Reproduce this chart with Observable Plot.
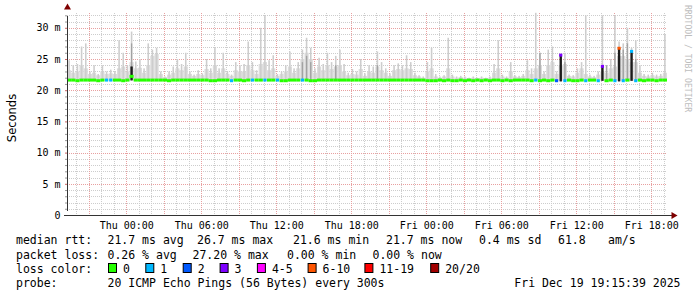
<!DOCTYPE html>
<html><head><meta charset="utf-8">
<script src="https://cdn.jsdelivr.net/npm/d3@7"></script>
<script src="https://cdn.jsdelivr.net/npm/@observablehq/plot@0.6"></script>
<style>body{margin:0;background:#fff;} svg{display:block}</style>
</head><body><div id="chart"></div>
<script>
// ---- data (20-minute bins, Wed Dec 17 19:15 -> Fri Dec 19 19:15 UTC) ----
const median = [
 21.7,21.7,21.6,21.7,21.7,21.7,21.7,21.6,21.7,21.7,
 21.7,21.7,21.7,21.6,21.7,22.3,21.7,21.7,21.7,21.7,
 21.7,21.7,21.7,21.7,21.6,21.7,21.7,21.7,21.7,21.7,
 21.7,21.7,21.7,21.7,21.6,21.6,21.7,21.7,21.7,21.6,
 21.7,21.7,21.6,21.7,21.7,21.7,21.7,21.7,21.7,21.7,
 21.7,21.6,21.6,21.7,21.7,21.7,21.7,21.7,21.6,21.6,
 21.7,21.7,21.7,21.7,21.7,21.7,21.7,21.7,21.7,21.7,
 21.7,21.7,21.7,21.7,21.7,21.7,21.7,21.7,21.7,21.7,
 21.7,21.7,21.7,21.7,21.7,21.7,21.6,21.6,21.6,21.7,
 21.6,21.7,21.6,21.6,21.7,21.6,21.7,21.6,21.7,21.6,
 21.7,21.6,21.7,21.7,21.6,21.7,21.6,21.7,21.7,21.7,
 21.7,21.6,21.7,21.6,21.7,21.6,21.7,21.6,25.7,21.6,
 21.7,21.6,21.6,21.7,21.6,21.7,21.7,21.6,23.9,21.6,
 21.7,21.6,26.8,21.6,21.7,26.3,21.6,21.7,21.6,21.7,
 21.7,21.6,21.7,21.7
];
const smokeMid = [
 23.2,22.8,23.0,24.0,23.5,22.6,22.8,22.4,23.0,22.6,
 22.7,22.6,23.5,23.8,23.0,24.5,23.5,23.6,22.8,24.0,
 25.5,25.8,22.6,22.1,22.5,22.8,23.5,23.2,23.8,22.6,
 22.3,22.6,22.4,23.4,22.8,24.0,22.8,23.5,22.6,22.3,
 23.2,23.0,23.0,24.0,23.2,22.6,24.2,24.5,23.2,23.5,
 22.3,22.6,23.0,23.8,22.8,23.5,25.0,26.0,25.0,22.8,
 23.8,23.2,24.0,23.4,23.8,24.0,23.0,22.4,22.6,22.5,
 23.4,22.3,23.0,22.8,23.8,23.2,22.8,22.3,23.2,23.4,
 23.2,23.5,23.4,22.4,22.2,22.0,23.0,23.5,22.2,22.0,
 22.2,23.5,22.2,22.0,22.1,22.0,21.9,22.0,21.9,22.0,
 21.9,22.0,22.8,23.5,22.2,22.0,23.0,22.2,22.1,22.3,
 23.2,22.6,23.5,24.0,22.6,24.0,24.5,22.6,24.0,24.2,
 22.3,22.2,22.8,23.5,22.6,22.2,22.1,22.5,23.0,22.8,
 23.5,23.8,25.5,25.5,25.0,24.5,24.5,22.8,22.3,22.2,
 22.4,22.2,22.3,22.8
];
const smokeHi = [
 24.8,24.0,24.2,27.0,27.5,23.0,24.0,22.6,24.0,23.0,23.3,23.0,
 28.0,26.0,24.0,29.4,24.6,25.0,23.5,27.5,26.5,26.8,23.0,22.2,
 23.0,23.8,25.0,24.2,26.0,23.0,22.5,23.2,22.7,25.0,23.5,26.8,
 23.5,26.0,23.0,22.5,24.5,24.0,24.2,27.8,24.5,23.2,30.0,32.0,
 24.8,25.6,22.6,23.0,24.0,26.2,23.5,24.5,26.5,28.4,26.8,23.5,
 25.2,24.2,26.0,24.5,25.5,26.5,24.2,22.8,23.4,23.0,25.0,22.7,
 24.0,23.8,26.2,24.5,23.5,22.7,24.0,24.3,24.0,25.6,24.5,22.8,
 22.4,22.2,24.5,26.8,22.6,22.2,22.4,28.4,22.5,22.2,22.3,22.2,
 22.0,22.2,22.0,22.2,22.0,22.2,24.2,28.0,22.5,22.2,24.5,22.4,
 22.3,22.6,24.8,23.5,32.4,26.0,23.0,26.5,27.0,23.0,25.8,26.0,
 22.5,22.4,23.5,24.5,32.0,22.5,22.3,23.0,32.0,24.0,25.0,32.0,
 27.8,27.5,30.0,26.8,28.0,24.0,22.6,22.5,22.8,22.5,22.6,29.0
];
const loss = [
 0,0,0,0,0,0,0,0,0,1, 1,0,0,0,0,0,0,0,0,0,
 0,0,0,0,0,0,0,0,0,0, 0,0,0,0,0,0,0,0,0,1,
 0,0,0,0,1,0,0,1,0,0, 1,0,0,0,0,0,1,0,0,0,
 0,0,0,0,0,0,0,0,0,0, 0,0,0,0,0,0,0,0,0,0,
 0,0,0,0,0,0,0,0,0,0, 0,0,0,0,0,0,0,0,0,0,
 0,0,0,0,0,0,0,0,0,0, 0,0,1,0,0,0,0,2,3,1,
 0,0,0,0,1,0,0,1,3,0, 0,1,7,1,0,1,1,0,0,0,
 0,0,0,0
];
// darker smoke columns (bin index, top of dark part)
const shadeIdx = [15, 56, 57, 58, 64, 74, 113, 119, 129, 131, 133, 134, 136];
const shadeTop = [27.5, 24.5, 25.5, 24.5, 24.0, 24.0, 26.0, 24.5, 24.0, 26.0, 26.5, 27.5, 25.0];
// dense dark smoke bars at high-loss moments
const burstIdx  = [15, 118, 128, 132, 135];
const burstLow  = [21.6, 21.4, 21.5, 21.4, 21.5];
const burstHigh = [23.8, 25.7, 23.9, 26.8, 26.3];

const lossLabels = ["0","1","2","3","4-5","6-10","11-19","20/20"];
const lossUpper  = [0, 1, 2, 3, 5, 10, 19, 20];
const lossColors = ["#26ff00","#00b8ff","#0059ff","#7e00ff","#ff00ff","#ff5500","#ff0000","#a10000"];

const yTicks = [0, 5, 10, 15, 20, 25, 30];
const legendRtt = [["21.7 ms avg",107.5],["26.7 ms max",197],["21.6 ms min",293],["21.7 ms now",386],["0.4 ms sd",479],["61.8",558],["am/s",608]];
const legendLoss = [["0.26 % avg",107.5],["27.20 % max",192.5],["0.00 % min",287],["0.00 % now",372.5]];
const swatchX = [108, 145.3, 182.7, 219.6, 256.9, 307.6, 364.4, 430.2];

// ---- build ----
const start = new Date(Date.UTC(2025,11,17,19,15,39));
const end   = new Date(Date.UTC(2025,11,19,19,15,39));
const binMs = 20*60*1000;
const smokeFloor = 21.5;
const yMax = 32.37;

const colorFor = n => lossColors[lossUpper.findIndex(u => n <= u)];
const rows = median.map((m,i) => ({
  t0: new Date(+start + i*binMs), t1: new Date(+start + (i+1)*binMs),
  median: m, mid: smokeMid[i], hi: smokeHi[i], loss: loss[i], color: colorFor(loss[i])
}));
const shades = shadeIdx.map((b,j) => ({t0: rows[b].t0, t1: rows[b].t1, top: shadeTop[j]}));
const bursts = burstIdx.map((b,j) => ({t0: rows[b].t0, t1: rows[b].t1, lo: burstLow[j], hi: burstHigh[j]}));

const yMinor = d3.range(1, 33).filter(v => v % 5 !== 0);
const yMajor = yTicks.filter(v => v > 0);
const hours = d3.utcHour.range(start, end);
const minorHours = hours.filter(h => h.getUTCHours() % 3 !== 0);
const majorHours = hours.filter(h => h.getUTCHours() % 3 === 0);
const labelHours = hours.filter(h => h.getUTCHours() % 6 === 0);

const mono = "'DejaVu Sans Mono', monospace";
const plot = Plot.plot({
  width: 697, height: 297,
  marginLeft: 67, marginRight: 30, marginTop: 13, marginBottom: 82,
  x: {type: "utc", domain: [start, end]},
  y: {domain: [0, yMax]},
  style: {fontFamily: mono, fontSize: "10px", color: "#000", background: "#fff"},
  marks: [
    Plot.ruleY(yMinor, {stroke: "#cdcdcd", strokeDasharray: "1,1", shapeRendering: "crispEdges"}),
    Plot.ruleX(minorHours, {stroke: "#cdcdcd", strokeDasharray: "1,1", shapeRendering: "crispEdges"}),
    Plot.ruleY(yMajor, {stroke: "#e8a0a0", strokeDasharray: "1,1", shapeRendering: "crispEdges"}),
    Plot.ruleX(majorHours, {stroke: "#e8a0a0", strokeDasharray: "1,1", shapeRendering: "crispEdges"}),
    // smoke
    Plot.rect(rows, {x1: "t0", x2: "t1", y1: () => smokeFloor, y2: "mid", fill: "#dcdcdc"}),
    Plot.rect(rows, {x1: "t0", x2: "t1", y1: () => smokeFloor, y2: "hi", fill: "#cdcdcd", insetLeft: 1.3, insetRight: 1.3}),
    Plot.rect(shades, {x1: "t0", x2: "t1", y1: () => smokeFloor, y2: "top", fill: "#a2a2a2", insetLeft: 1.4, insetRight: 1.4}),
    Plot.rect(bursts, {x1: "t0", x2: "t1", y1: "lo", y2: "hi", fill: "#1c1c1c", insetLeft: 0.9, insetRight: 0.9}),
    // median rtt coloured by loss
    Plot.ruleY(rows.filter(r => r.loss === 0), {x1: "t0", x2: "t1", y: "median", stroke: "color", strokeWidth: 3}),
    Plot.ruleY(rows.filter(r => r.loss > 0), {x1: "t0", x2: "t1", y: "median", stroke: "color", strokeWidth: 3, insetLeft: 0.5, insetRight: 0.5}),
    // axes
    Plot.axisY(yMinor, {tickSize: 2, tickFormat: () => "", label: null, stroke: "#999"}),
    Plot.axisY(yTicks, {tickSize: 2, tickPadding: 5, tickFormat: d => d === 0 ? "0" : `${d} m`, label: null, stroke: "#c66"}),
    Plot.axisX(labelHours, {tickSize: 0, tickPadding: 6, tickFormat: d3.utcFormat("%a %H:%M"), label: null}),
    Plot.ruleX([start], {y1: () => 0, y2: () => yMax, stroke: "#333", insetTop: -4, insetBottom: -3}),
    Plot.ruleY([0], {stroke: "#333", insetLeft: -3, insetRight: -5}),
    Plot.dot([yMax], {x: () => start, y: d => d, dy: -6, symbol: "triangle", r: 2.6, fill: "#7f0000", stroke: "none"}),
    Plot.dot([0], {x: () => end, y: d => d, dx: 6, symbol: "triangle", rotate: 90, r: 2.6, fill: "#7f0000", stroke: "none"})
  ]
});
document.getElementById("chart").appendChild(plot);

// ---- texts around the plot ----
const svg = d3.select(plot);
const fs = "11.5px";
const line = (txt, x, y, anchor = "start") => svg.append("text")
  .attr("x", x).attr("y", y).attr("text-anchor", anchor)
  .attr("font-family", mono).attr("font-size", fs).attr("fill", "#000")
  .style("white-space", "pre").text(txt);

svg.append("text")
  .attr("transform", "translate(15.5,118) rotate(-90)")
  .attr("text-anchor", "middle").attr("font-family", "'DejaVu Sans', sans-serif")
  .attr("font-size", "11.5px").attr("fill", "#000").text("Seconds");

svg.append("text")
  .attr("transform", "translate(684.5,5) rotate(90)")
  .attr("text-anchor", "start")
  .attr("font-family", mono).attr("font-size", "8.1px").attr("fill", "#bdbdbd")
  .text("RRDTOOL / TOBI OETIKER");

const b1 = 244.3, b2 = 258.6, b3 = 272.8, b4 = 287;
line("median rtt:", 16, b1);
legendRtt.forEach(([t, x]) => line(t, x, b1));
line("packet loss:", 16, b2);
legendLoss.forEach(([t, x]) => line(t, x, b2));
line("loss color:", 16, b3);
lossLabels.forEach((lab, k) => {
  svg.append("rect").attr("x", swatchX[k] + 0.5).attr("y", 263.5).attr("width", 8).attr("height", 9)
    .attr("fill", lossColors[k]).attr("stroke", "#000").attr("stroke-width", 1);
  line(lab, swatchX[k] + 15, b3);
});
line("probe:", 16, b4);
line("20 ICMP Echo Pings (56 Bytes) every 300s", 107.5, b4);
line("Fri Dec 19 19:15:39 2025", 680.5, b4, "end");
</script>
</body></html>
